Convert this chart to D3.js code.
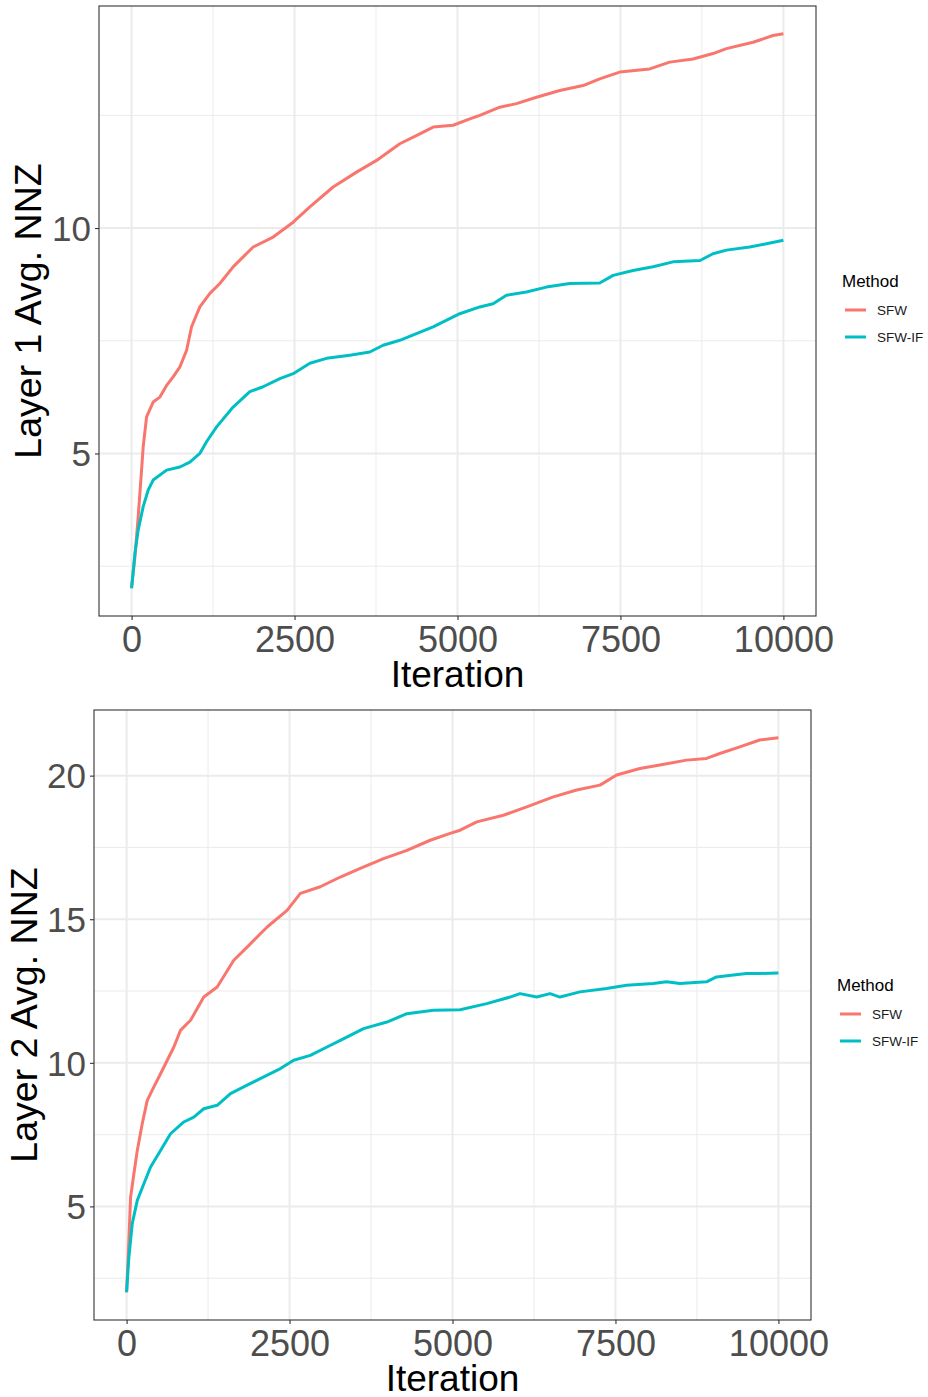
<!DOCTYPE html>
<html>
<head>
<meta charset="utf-8">
<script src="https://cdn.jsdelivr.net/npm/d3@7"></script>
<style>
    body { margin: 0; background: #fff; }
    text { font-family: "Liberation Sans", Arial, sans-serif; }
</style>
</head>
<body>
<script>
(function(){

    //series names and colours (ggplot defaults)
    var methods = ["SFW", "SFW-IF"];
    var colors = ["#F8766D", "#00BFC4"];

    //layer 1, SFW
    var l1SfwIter = [0, 51, 101, 153, 178, 230, 331, 434, 537, 638, 741, 844, 920, 1047, 1201, 1354, 1558, 1865, 2172, 2479, 2735, 3092, 3451, 3758, 4115, 4422, 4626, 4933, 5189, 5342, 5649, 5905, 6212, 6569, 6927, 7182, 7489, 7949, 8256, 8614, 8920, 9126, 9534, 9840, 10000];
    var l1SfwNnz = [2.04, 2.71, 3.59, 4.63, 5.15, 5.81, 6.14, 6.25, 6.51, 6.70, 6.92, 7.29, 7.81, 8.25, 8.55, 8.77, 9.14, 9.58, 9.80, 10.13, 10.47, 10.91, 11.24, 11.50, 11.87, 12.09, 12.24, 12.28, 12.42, 12.50, 12.68, 12.76, 12.90, 13.05, 13.16, 13.31, 13.46, 13.53, 13.68, 13.75, 13.87, 13.98, 14.12, 14.27, 14.31];

    //layer 1, SFW-IF
    var l1IfIter = [0, 51, 101, 178, 255, 331, 537, 741, 894, 1047, 1150, 1304, 1558, 1814, 2018, 2275, 2479, 2735, 2991, 3348, 3655, 3859, 4115, 4626, 5035, 5342, 5546, 5751, 6057, 6364, 6722, 7182, 7387, 7693, 8000, 8307, 8721, 8920, 9126, 9483, 9739, 10000];
    var l1IfNnz = [2.01, 2.78, 3.30, 3.82, 4.19, 4.41, 4.63, 4.70, 4.81, 5.00, 5.26, 5.59, 6.03, 6.37, 6.48, 6.66, 6.77, 7.00, 7.11, 7.18, 7.25, 7.40, 7.51, 7.81, 8.10, 8.25, 8.32, 8.51, 8.58, 8.69, 8.77, 8.78, 8.95, 9.06, 9.14, 9.25, 9.28, 9.43, 9.51, 9.58, 9.65, 9.73];

    //layer 2, SFW
    var l2SfwIter = [0, 35, 61, 112, 164, 240, 317, 418, 521, 624, 725, 827, 981, 1184, 1390, 1644, 1849, 2156, 2462, 2666, 2972, 3279, 3585, 3942, 4300, 4658, 4964, 5117, 5373, 5781, 6139, 6547, 6905, 7262, 7518, 7875, 8181, 8590, 8897, 9101, 9407, 9713, 10000];
    var l2SfwNnz = [2.01, 3.82, 5.32, 6.14, 6.95, 7.88, 8.69, 9.16, 9.62, 10.09, 10.55, 11.13, 11.48, 12.29, 12.64, 13.57, 14.03, 14.73, 15.31, 15.90, 16.13, 16.47, 16.77, 17.11, 17.40, 17.75, 17.99, 18.10, 18.39, 18.62, 18.91, 19.26, 19.50, 19.67, 20.02, 20.25, 20.37, 20.54, 20.60, 20.77, 21.00, 21.24, 21.32];

    //layer 2, SFW-IF
    var l2IfIter = [0, 35, 87, 164, 265, 368, 521, 674, 878, 1031, 1184, 1390, 1593, 1849, 2104, 2360, 2563, 2819, 3075, 3279, 3636, 3994, 4300, 4708, 5117, 5526, 5883, 6036, 6292, 6496, 6649, 6956, 7364, 7671, 8079, 8284, 8488, 8897, 9050, 9510, 9713, 10000];
    var l2IfNnz = [2.01, 3.23, 4.40, 5.21, 5.79, 6.37, 6.95, 7.53, 7.94, 8.11, 8.40, 8.52, 8.93, 9.22, 9.51, 9.80, 10.09, 10.26, 10.55, 10.78, 11.19, 11.42, 11.71, 11.83, 11.85, 12.06, 12.29, 12.41, 12.29, 12.41, 12.29, 12.47, 12.59, 12.70, 12.76, 12.82, 12.76, 12.82, 12.99, 13.11, 13.11, 13.13];

    //tick values
    var xTicks = [0, 2500, 5000, 7500, 10000];
    var xMinor = [1250, 3750, 6250, 8750];
    var l1YTicks = [5, 10];
    var l1YMinor = [2.5, 7.5, 12.5];
    var l2YTicks = [5, 10, 15, 20];
    var l2YMinor = [2.5, 7.5, 12.5, 17.5];

    var svg = d3.select("body")
        .append("svg")
        .attr("width", 928)
        .attr("height", 1397);

    setPanel({
        left: 99, right: 816, top: 6, bottom: 616,
        title: "Layer 1 Avg. NNZ", yTitleX: 41,
        yTicks: l1YTicks, yMinor: l1YMinor,
        series: [[l1SfwIter, l1SfwNnz], [l1IfIter, l1IfNnz]],
        legendX: 842, legendY: 287
    });

    setPanel({
        left: 94, right: 811, top: 710, bottom: 1320,
        title: "Layer 2 Avg. NNZ", yTitleX: 37,
        yTicks: l2YTicks, yMinor: l2YMinor,
        series: [[l2SfwIter, l2SfwNnz], [l2IfIter, l2IfNnz]],
        legendX: 837, legendY: 991
    });

    function setPanel(p){
        var g = svg.append("g");

        //y domain with 5% expansion like ggplot
        var allY = d3.merge(p.series.map(function(s){ return s[1]; }));
        var yMin = d3.min(allY), yMax = d3.max(allY),
            pad = (yMax - yMin) * 0.05;

        var x = d3.scaleLinear()
            .domain([-500, 10500])
            .range([p.left, p.right]);
        var y = d3.scaleLinear()
            .domain([yMin - pad, yMax + pad])
            .range([p.bottom, p.top]);

        //minor grid
        g.selectAll(".vMinor")
            .data(xMinor)
            .enter()
            .append("line")
            .attr("x1", x).attr("x2", x)
            .attr("y1", p.top).attr("y2", p.bottom)
            .attr("stroke", "#ebebeb").attr("stroke-width", 1);
        g.selectAll(".hMinor")
            .data(p.yMinor)
            .enter()
            .append("line")
            .attr("x1", p.left).attr("x2", p.right)
            .attr("y1", y).attr("y2", y)
            .attr("stroke", "#ebebeb").attr("stroke-width", 1);

        //major grid
        g.selectAll(".vMajor")
            .data(xTicks)
            .enter()
            .append("line")
            .attr("x1", x).attr("x2", x)
            .attr("y1", p.top).attr("y2", p.bottom)
            .attr("stroke", "#ebebeb").attr("stroke-width", 2);
        g.selectAll(".hMajor")
            .data(p.yTicks)
            .enter()
            .append("line")
            .attr("x1", p.left).attr("x2", p.right)
            .attr("y1", y).attr("y2", y)
            .attr("stroke", "#ebebeb").attr("stroke-width", 2);

        //lines
        var line = d3.line()
            .x(function(d){ return x(d[0]); })
            .y(function(d){ return y(d[1]); });

        p.series.forEach(function(s, i){
            var pts = s[0].map(function(v, j){ return [v, s[1][j]]; });
            g.append("path")
                .datum(pts)
                .attr("fill", "none")
                .attr("stroke", colors[i])
                .attr("stroke-width", 3)
                .attr("stroke-linejoin", "round")
                .attr("d", line);
        });

        //panel border
        g.append("rect")
            .attr("x", p.left).attr("y", p.top)
            .attr("width", p.right - p.left)
            .attr("height", p.bottom - p.top)
            .attr("fill", "none")
            .attr("stroke", "#333")
            .attr("stroke-width", 1.1);

        //axes
        var xAxis = g.append("g")
            .attr("transform", "translate(0," + p.bottom + ")")
            .call(d3.axisBottom(x).tickValues(xTicks).tickSize(4).tickPadding(3).tickFormat(d3.format("d")));
        var yAxis = g.append("g")
            .attr("transform", "translate(" + p.left + ",0)")
            .call(d3.axisLeft(y).tickValues(p.yTicks).tickSize(4).tickPadding(4));

        [xAxis, yAxis].forEach(function(a){
            a.select(".domain").remove();
            a.selectAll(".tick line").attr("stroke", "#333").attr("stroke-width", 1.1);
            a.selectAll(".tick text")
                .attr("fill", "#4d4d4d")
                .style("font-family", "'Liberation Sans', Arial, sans-serif");
        });
        xAxis.selectAll(".tick text").style("font-size", "36px").attr("dy", "0.71em").attr("y", 10);
        yAxis.selectAll(".tick text").style("font-size", "35px").attr("dy", "0.35em");

        //axis titles
        g.append("text")
            .attr("x", (p.left + p.right) / 2)
            .attr("y", p.bottom + 71)
            .attr("text-anchor", "middle")
            .style("font-size", "37px")
            .text("Iteration");

        g.append("text")
            .attr("transform", "translate(" + p.yTitleX + "," + (p.top + p.bottom) / 2 + ") rotate(-90)")
            .attr("text-anchor", "middle")
            .style("font-size", "37.5px")
            .text(p.title);

        //legend
        var legend = g.append("g")
            .attr("transform", "translate(" + p.legendX + "," + p.legendY + ")");
        legend.append("text")
            .attr("x", 0).attr("y", 0)
            .style("font-size", "17px")
            .text("Method");
        methods.forEach(function(m, i){
            var ly = 23 + i * 27;
            legend.append("line")
                .attr("x1", 3).attr("x2", 24)
                .attr("y1", ly).attr("y2", ly)
                .attr("stroke", colors[i])
                .attr("stroke-width", 3);
            legend.append("text")
                .attr("x", 35).attr("y", ly)
                .attr("dy", "0.35em")
                .style("font-size", "13.5px")
                .attr("fill", "#1a1a1a")
                .text(m);
        });
    };

})();
</script>
</body>
</html>
